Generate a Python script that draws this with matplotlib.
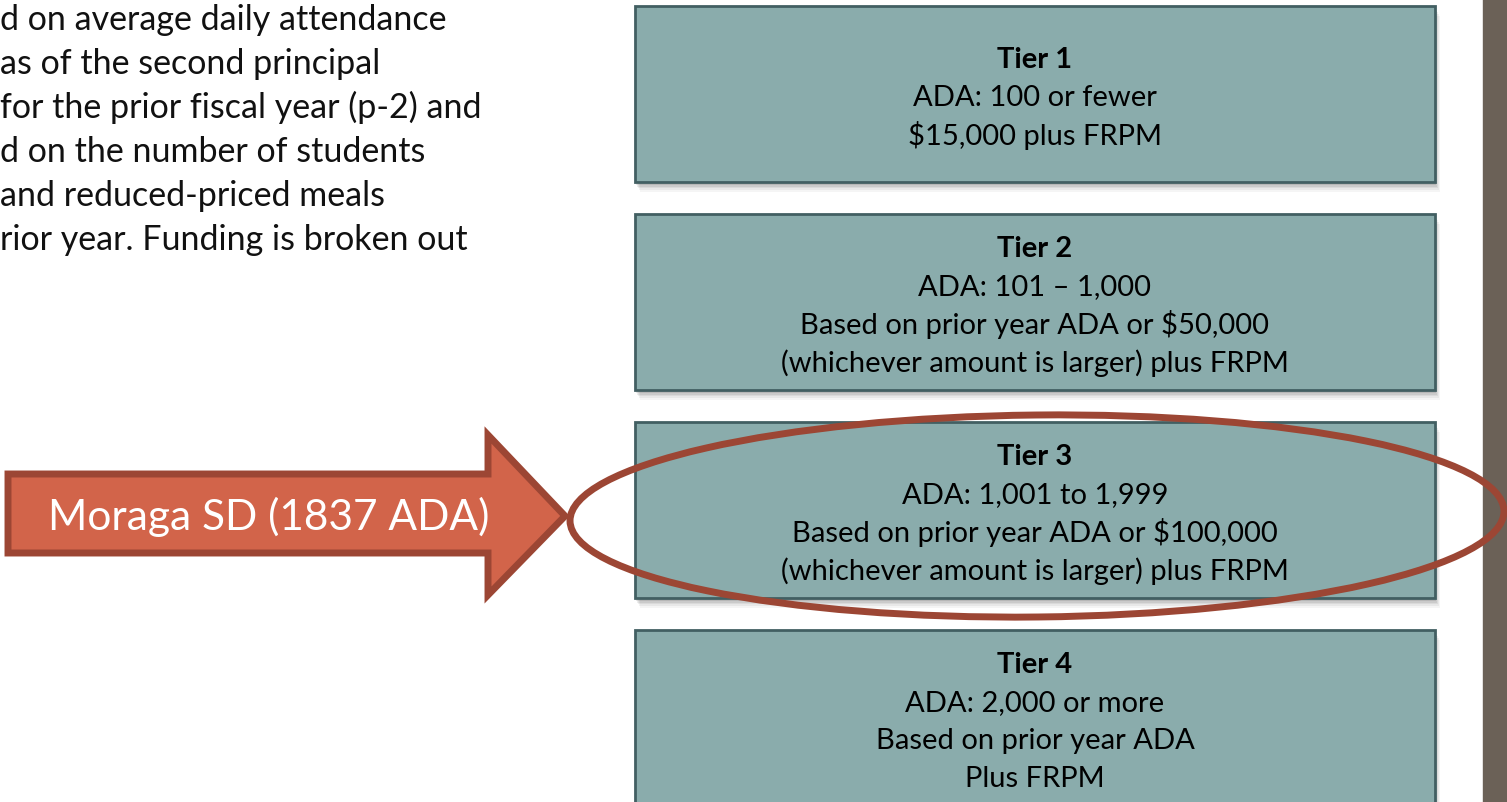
import matplotlib
matplotlib.use("Agg")
import matplotlib.pyplot as plt
from matplotlib.patches import Rectangle, Polygon, Ellipse

plt.rcParams['font.family'] = ['Lato', 'DejaVu Sans']

# slide content
intro_lines = [
    "d on average daily attendance",
    "as of the second principal",
    "for the prior fiscal year (p-2) and",
    "d on the number of students",
    "and reduced-priced meals",
    "rior year. Funding is broken out",
]
tier_titles = ["Tier 1", "Tier 2", "Tier 3", "Tier 4"]
tier_lines = [
    ["ADA: 100 or fewer", "$15,000 plus FRPM"],
    ["ADA: 101 \u2013 1,000", "Based on prior year ADA or $50,000",
     "(whichever amount is larger) plus FRPM"],
    ["ADA: 1,001 to 1,999", "Based on prior year ADA or $100,000",
     "(whichever amount is larger) plus FRPM"],
    ["ADA: 2,000 or more", "Based on prior year ADA", "Plus FRPM"],
]
arrow_label = "Moraga SD (1837 ADA)"

W, H = 1507, 803
fig = plt.figure(figsize=(W / 100, H / 100), dpi=100)
ax = fig.add_axes([0, 0, 1, 1])
ax.set_xlim(0, W)
ax.set_ylim(H, 0)
ax.axis('off')

box_fill = '#8aacac'
box_edge = '#425f62'
red_fill = '#d2644a'
red_edge = '#9c4634'

# right border strip
ax.add_patch(Rectangle((1483, 0), 24, H, color='#6b6157', zorder=1))

# intro paragraph (cut at the left edge)
for i, line in enumerate(intro_lines):
    ax.text(0, 19.5 + i * 44.2, line, fontsize=24.5, color='#111111',
            ha='left', va='center', zorder=3)

# tier boxes
box_x, box_w, box_h = 635, 800, 176
box_tops = [7, 215, 423, 631]
line_gap = 38
for top, title, lines in zip(box_tops, tier_titles, tier_lines):
    # soft shadow
    for k, a in enumerate([0.04, 0.05, 0.06, 0.07, 0.09]):
        off = 10 - k * 1.8
        ax.add_patch(Rectangle((box_x + off * 0.5, top + off), box_w, box_h,
                               facecolor='black', edgecolor='none', alpha=a, zorder=2))
    ax.add_patch(Rectangle((box_x, top), box_w, box_h, facecolor=box_fill,
                           edgecolor=box_edge, linewidth=2, zorder=3))
    cx = box_x + box_w / 2
    rows = [title] + lines
    first = top + 91 - (len(rows) - 1) * line_gap / 2
    for j, line in enumerate(rows):
        ax.text(cx, first + j * line_gap, line, fontsize=21,
                fontweight='bold' if j == 0 else 'normal',
                ha='center', va='center', color='black', zorder=4)

# arrow pointing at tier 3
arrow = Polygon([(8, 475), (488, 475), (488, 436), (565, 517), (488, 596),
                 (488, 554), (8, 554)], closed=True, facecolor=red_fill,
                edgecolor=red_edge, linewidth=5, joinstyle='miter', zorder=4)
ax.add_patch(arrow)
ax.text(269, 517, arrow_label, fontsize=30.5, color='white',
        ha='center', va='center', zorder=5)

# highlight ellipse around tier 3
ax.add_patch(Ellipse((1037, 517), 934, 202, angle=-0.6, facecolor='none',
                     edgecolor=red_edge, linewidth=5, zorder=6))

fig.savefig('out.png', dpi=100, facecolor='white')
